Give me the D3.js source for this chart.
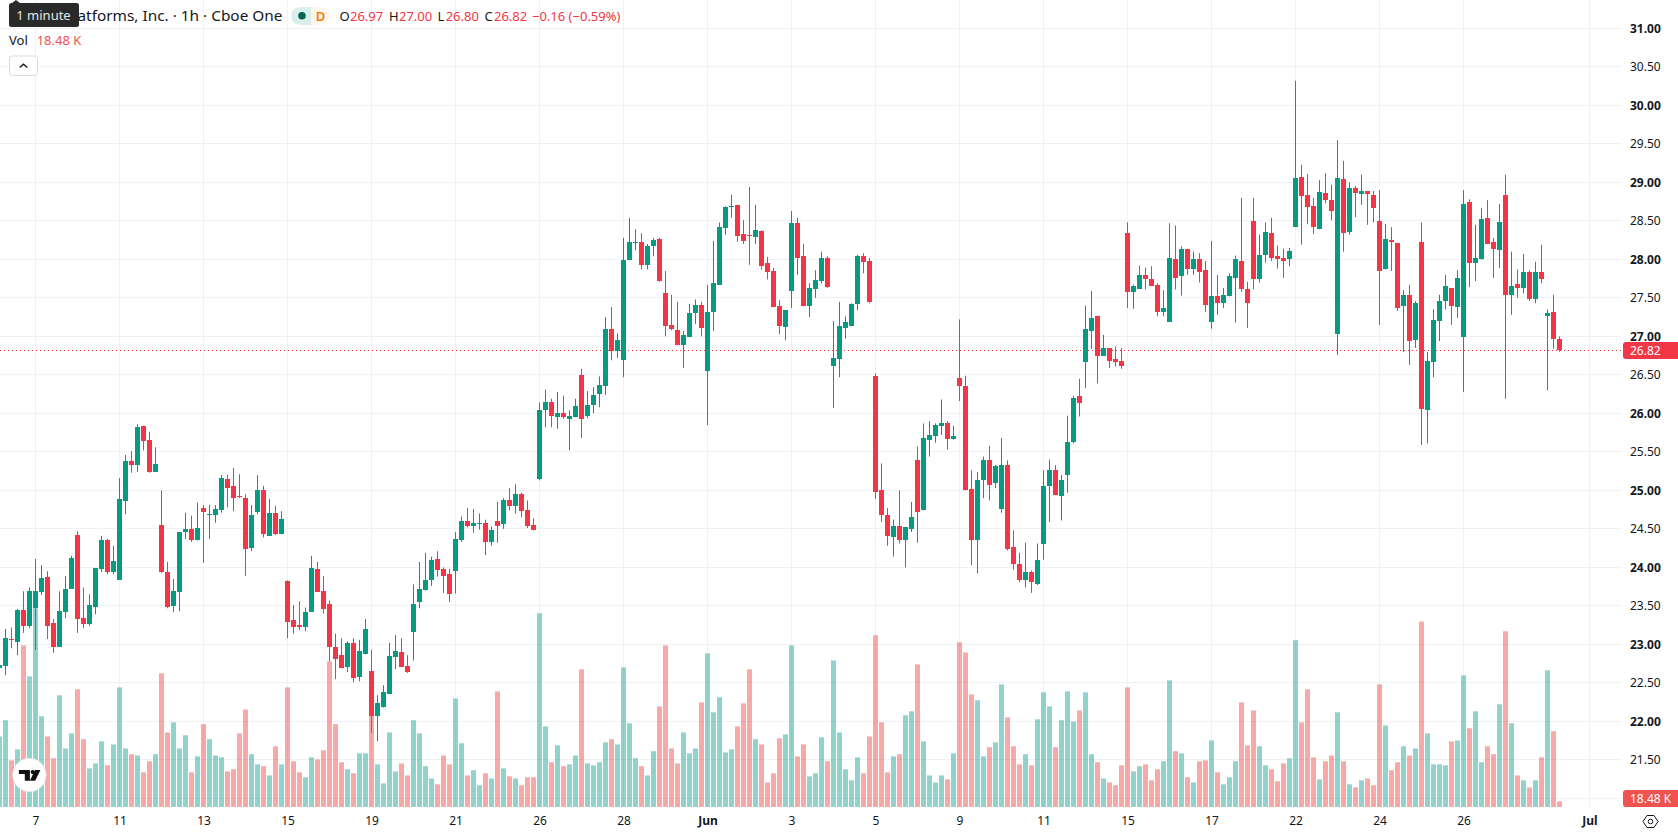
<!DOCTYPE html>
<html>
<head>
<meta charset="utf-8">
<title>Candlestick chart</title>
<script src="https://cdn.jsdelivr.net/npm/d3@7/dist/d3.min.js"></script>
<style>
  html, body { margin: 0; padding: 0; background: #fff; overflow: hidden; }
  svg { display: block; font-family: "Noto Sans", sans-serif; }
</style>
</head>
<body>
<svg id="chart" width="1678" height="835"></svg>
<script>
// Hourly session prices, first bar sits one slot left of index 0.
const opens = [22.70,22.72,23.07,23.03,23.45,23.24,23.47,23.68,23.87,23.28,
22.97,23.42,23.72,24.42,23.34,23.26,23.48,23.98,24.35,23.94,
23.84,24.86,25.38,25.33,25.84,25.65,25.24,24.55,23.94,23.50,
23.68,24.46,24.50,24.35,24.77,24.69,24.68,24.74,25.15,25.06,
24.93,24.90,24.25,24.72,25.00,24.41,24.71,24.43,23.82,23.32,
23.25,23.23,23.42,23.98,23.70,23.53,22.96,22.86,22.71,23.02,
22.58,22.87,22.65,22.07,22.19,22.36,22.84,22.90,22.72,23.16,
23.55,23.71,23.83,24.11,23.98,23.92,23.95,24.36,24.60,24.54,
24.57,24.58,24.33,24.60,24.56,24.87,24.80,24.95,24.74,24.55,
25.15,26.04,26.15,25.95,26.01,25.93,25.95,26.50,25.97,26.11,
26.25,26.36,27.10,26.81,26.69,27.99,28.22,28.23,27.93,28.17,
28.26,27.56,27.15,27.08,26.89,26.99,27.30,27.41,26.55,27.32,
27.67,28.41,28.69,28.71,28.33,28.32,28.29,28.37,27.95,27.85,
27.39,27.12,27.59,28.47,28.04,27.39,27.61,27.72,28.02,26.61,
26.71,27.11,27.13,27.42,28.04,27.98,26.48,25.01,24.68,24.39,
24.54,24.36,24.50,25.39,24.74,25.66,25.71,25.84,25.88,25.67,
26.46,26.36,25.02,24.36,25.13,25.39,25.09,24.76,25.33,24.26,
24.05,23.84,23.94,23.79,24.31,25.06,25.26,24.93,25.20,25.63,
26.22,26.67,27.07,27.27,26.75,26.85,26.71,26.68,28.34,27.58,
27.62,27.80,27.75,27.67,27.32,27.19,28.01,27.79,28.13,27.88,
28.00,27.86,27.19,27.53,27.44,27.53,27.76,27.98,27.62,28.50,
27.75,28.06,28.34,28.05,28.02,28.00,28.42,29.07,28.84,28.69,
28.39,28.86,28.77,27.03,29.04,28.35,28.93,28.85,28.89,28.84,
28.50,27.87,28.25,28.21,27.39,27.54,26.95,28.23,26.04,26.67,
27.20,27.46,27.63,27.38,26.99,28.74,27.95,28.00,28.54,28.23,
28.12,28.84,27.54,27.68,27.63,27.84,27.48,27.84,27.26,27.32,26.97];

const closes = [22.73,23.08,23.06,23.45,23.24,23.69,23.69,23.86,23.24,22.97,
23.43,23.72,24.12,23.33,23.26,23.51,23.99,24.35,23.94,24.08,
24.89,25.38,25.33,25.82,25.64,25.24,25.34,23.94,23.48,23.69,
24.46,24.50,24.35,24.51,24.72,24.70,24.76,25.16,25.03,24.90,
24.91,24.24,24.68,25.00,24.43,24.71,24.43,24.63,23.29,23.23,
23.22,23.42,23.99,23.68,23.46,22.96,22.81,22.69,23.02,22.57,
22.92,23.20,22.07,22.24,22.38,22.85,22.92,22.71,22.64,23.52,
23.72,23.83,24.10,23.97,23.89,23.65,24.37,24.60,24.54,24.58,
24.58,24.33,24.49,24.54,24.87,24.80,24.95,24.73,24.54,24.48,
26.04,26.15,25.97,26.01,25.95,25.97,26.09,25.93,26.11,26.24,
26.37,27.10,26.81,26.95,27.99,28.23,28.23,27.93,28.17,28.25,
27.72,27.13,27.10,26.89,27.02,27.30,27.41,27.11,27.32,27.69,
28.42,28.68,28.70,28.30,28.24,28.30,28.38,27.91,27.84,27.38,
27.13,27.34,28.47,28.02,27.39,27.63,27.73,28.02,27.64,26.72,
27.13,27.19,27.42,28.04,27.97,27.45,24.98,24.68,24.41,24.54,
24.36,24.52,24.66,24.72,25.68,25.72,25.85,25.88,25.67,25.71,
26.35,25.01,24.35,25.13,25.40,25.07,25.32,25.33,24.24,24.05,
23.84,23.94,23.81,24.09,25.06,25.26,24.94,25.13,25.63,26.20,
26.13,27.09,27.24,26.75,26.85,26.68,26.67,26.61,27.58,27.65,
27.80,27.75,27.66,27.32,27.37,28.02,27.76,28.13,27.88,28.00,
27.83,27.41,27.52,27.43,27.54,27.78,28.00,27.62,27.43,27.75,
28.06,28.35,28.02,28.01,27.98,28.11,29.06,28.82,28.68,28.42,
28.87,28.77,28.63,29.06,28.34,28.93,28.86,28.89,28.85,28.67,
27.85,28.26,28.23,27.37,27.54,26.94,27.43,26.06,26.68,27.21,
27.46,27.65,27.39,27.76,28.72,27.95,28.02,28.52,28.20,28.13,
28.48,27.54,27.65,27.63,27.84,27.48,27.84,27.74,27.30,26.97,26.82];

const highs = [22.80,23.20,23.22,23.46,23.69,23.74,24.11,24.03,23.95,23.33,
23.69,23.89,24.15,24.47,23.74,23.65,23.99,24.41,24.37,24.28,
25.16,25.46,25.51,25.86,25.84,25.76,25.56,25.00,24.07,23.85,
24.46,24.71,24.67,24.84,24.81,24.81,24.81,25.20,25.20,25.29,
25.21,24.95,24.81,25.20,25.06,24.89,24.80,24.73,23.83,23.51,
23.56,23.48,24.15,24.07,23.89,23.57,23.14,23.08,23.04,23.08,
23.06,23.33,22.93,22.34,22.47,23.02,23.12,23.08,22.86,23.78,
24.07,24.19,24.14,24.21,24.00,23.98,24.46,24.66,24.77,24.76,
24.70,24.62,24.53,24.85,24.90,25.03,25.08,24.97,24.87,24.64,
26.14,26.31,26.19,26.28,26.23,26.04,26.19,26.58,26.29,26.34,
26.48,27.25,27.38,27.04,28.28,28.54,28.39,28.34,28.20,28.28,
28.28,27.85,27.54,27.45,27.07,27.42,27.48,27.45,27.67,28.24,
28.48,28.69,28.84,28.71,28.51,28.94,28.71,28.38,28.03,27.89,
27.47,27.34,28.63,28.54,28.20,27.69,27.86,28.10,28.04,27.20,
27.45,27.26,27.43,28.06,28.08,28.02,26.52,25.35,24.77,24.62,
25.00,24.52,24.85,25.57,25.87,25.90,25.87,26.18,25.90,25.84,
27.22,26.49,25.26,25.24,25.44,25.58,25.33,25.68,25.39,24.48,
24.19,24.32,23.96,24.31,25.26,25.40,25.33,25.20,25.97,26.23,
26.45,27.40,27.59,27.27,27.02,26.85,26.87,26.85,28.48,27.67,
27.92,27.89,27.91,27.69,27.60,28.47,28.44,28.17,28.13,28.10,
28.08,27.98,28.24,27.80,27.63,27.82,28.05,28.80,27.71,28.80,
28.32,28.48,28.54,28.18,28.14,28.15,30.32,29.23,29.11,28.80,
29.03,29.12,28.97,29.55,29.28,29.00,28.95,29.10,28.89,28.89,
28.90,28.46,28.42,28.21,27.60,27.67,27.46,28.48,26.80,27.35,
27.54,27.80,27.63,27.86,28.90,28.78,28.45,28.67,28.77,28.28,
28.72,29.10,28.10,27.87,28.07,27.86,27.97,28.19,27.35,27.54,27.00];

const lows = [22.60,22.60,22.95,22.86,23.15,23.21,22.93,23.64,23.07,22.89,
22.97,23.34,23.72,23.15,23.21,23.24,23.39,23.94,23.91,23.91,
23.84,24.69,25.23,25.24,25.52,25.23,25.24,23.93,23.47,23.42,
23.43,24.37,24.33,24.35,24.06,24.37,24.58,24.71,24.78,24.73,
24.90,23.89,24.21,24.69,24.39,24.41,24.42,24.43,23.08,23.14,
23.19,23.17,23.42,23.68,23.40,22.78,22.55,22.69,22.64,22.51,
22.52,22.87,21.85,21.74,22.18,22.36,22.68,22.71,22.63,22.79,
23.47,23.70,23.76,23.88,23.67,23.55,23.66,24.33,24.52,24.45,
24.49,24.16,24.28,24.32,24.50,24.74,24.70,24.65,24.51,24.48,
25.13,25.82,25.82,25.80,25.93,25.52,25.95,25.68,25.94,26.00,
26.08,26.24,26.69,26.72,26.47,27.99,28.12,27.87,27.87,28.04,
27.71,27.00,27.08,26.89,26.59,26.99,27.16,27.00,25.85,27.07,
27.67,28.32,28.54,28.23,28.20,27.93,28.20,27.87,27.74,27.38,
27.03,26.95,27.37,27.80,27.39,27.25,27.50,27.69,27.63,26.07,
26.47,26.97,27.13,27.34,27.82,27.43,24.89,24.59,24.28,24.14,
24.31,24.00,24.46,24.32,24.74,25.44,25.62,25.72,25.53,25.66,
26.16,25.00,24.03,23.92,24.90,24.87,25.03,24.71,24.22,23.97,
23.81,23.74,23.67,23.77,24.10,24.59,24.94,24.61,24.97,25.61,
25.96,26.33,26.84,26.39,26.75,26.59,26.61,26.58,27.37,27.36,
27.62,27.61,27.66,27.26,27.26,27.19,27.61,27.53,27.80,27.80,
27.70,27.32,27.10,27.28,27.37,27.52,27.18,27.58,27.11,27.61,
27.70,27.96,27.98,27.88,27.76,27.91,28.42,28.19,28.46,28.33,
28.39,28.73,28.51,26.76,28.10,28.32,28.55,28.71,28.45,28.48,
27.15,27.87,27.85,27.33,26.80,26.63,26.85,25.59,25.61,26.47,
26.94,27.35,27.15,27.24,26.28,27.64,27.72,28.00,28.20,27.76,
27.89,26.19,27.28,27.50,27.56,27.46,27.43,27.69,26.30,26.84,26.80];

// Traded volume per bar, in thousands of shares.
const volumes = [230,283,152,188,527,426,648,296,230,159,
364,191,240,384,221,126,142,214,136,204,
390,191,172,168,113,149,172,436,243,276,
191,234,113,165,270,221,168,162,116,123,
240,318,172,139,133,103,198,139,390,149,
113,97,162,155,185,475,270,146,123,110,
175,175,304,139,77,243,116,142,103,283,
240,133,93,74,168,139,354,208,103,120,
71,110,93,377,126,100,93,71,97,97,
632,263,146,201,133,139,168,449,142,136,
146,211,221,204,455,273,159,133,103,182,
328,527,191,142,243,175,191,341,501,309,
358,178,188,263,338,449,221,204,80,110,
224,237,527,165,204,100,110,227,149,478,
243,123,87,162,110,230,560,276,113,165,
172,299,312,465,214,103,80,103,90,175,
537,504,367,348,165,195,211,400,292,198,
139,172,136,286,374,328,195,283,377,279,
315,374,172,146,93,80,71,136,390,116,
133,139,87,123,149,413,182,175,97,80,
149,152,217,113,74,97,149,341,201,315,
198,136,123,84,142,159,544,276,384,162,
90,149,168,309,149,74,64,87,93,71,
400,266,120,146,198,168,191,605,240,139,
139,136,214,217,429,257,312,146,198,172,
335,573,273,103,87,64,87,162,446,247,18.48];

// Tick labels for both axes.
const timeTickBars = [5,19,33,47,61,75,89,103,117,131,145,159,173,187,201,215,229,243,264];
const timeTickLabels = ["7","11","13","15","19","21","26","28","Jun","3","5","9","11","15","17","22","24","26","Jul"];
const boldTimeLabels = ["Jun","Jul"];
const priceGridLevels = d3.range(21, 31.01, 0.5);
const priceTickLevels = d3.range(21.5, 31.01, 0.5);

const lastPrice = closes[closes.length - 1];
const lastVolume = volumes[volumes.length - 1];

const UP = "#089981", DOWN = "#f23645";
const VOL_UP = "#26a69a", VOL_DOWN = "#ef5350";
const GRID = "#f0f1f4", TEXT = "#131722";
const PANE_RIGHT = 1621, PANE_BOTTOM = 807;
const BODY_WIDTH = 5;

const svg = d3.select("#chart");
const x = d3.scaleLinear().domain([0, 1]).range([5.5, 11.5]);
const y = d3.scaleLinear().domain([21, 31]).range([798.4, 28.4]);
const yVol = d3.scaleLinear().domain([0, 1000]).range([PANE_BOTTOM, PANE_BOTTOM - 306.65]);

const bars = opens.map((o, k) => ({
  i: k - 1, o, h: highs[k], l: lows[k], c: closes[k], v: volumes[k], up: closes[k] >= o
}));

const pane = svg.append("g");
const snap = v => Math.floor(v) + 0.5;

// Grid
pane.append("g").selectAll("line").data(priceGridLevels).join("line")
  .attr("x1", 0).attr("x2", PANE_RIGHT)
  .attr("y1", d => snap(y(d))).attr("y2", d => snap(y(d)))
  .attr("stroke", GRID);
pane.append("g").selectAll("line").data(timeTickBars).join("line")
  .attr("x1", d => snap(x(d))).attr("x2", d => snap(x(d)))
  .attr("y1", 0).attr("y2", PANE_BOTTOM)
  .attr("stroke", GRID);

// Volume columns
pane.append("g").selectAll("rect").data(bars).join("rect")
  .attr("x", d => x(d.i) - BODY_WIDTH / 2)
  .attr("width", BODY_WIDTH)
  .attr("y", d => yVol(d.v))
  .attr("height", d => PANE_BOTTOM - yVol(d.v))
  .attr("fill", d => d.up ? VOL_UP : VOL_DOWN)
  .attr("fill-opacity", 0.5);

// Last price line
pane.append("line")
  .attr("x1", 0).attr("x2", PANE_RIGHT)
  .attr("y1", snap(y(lastPrice))).attr("y2", snap(y(lastPrice)))
  .attr("stroke", DOWN).attr("stroke-dasharray", "1,3");

// Candles: wick and body
const candles = pane.append("g");
candles.selectAll("rect.wick").data(bars).join("rect")
  .attr("class", "wick")
  .attr("x", d => x(d.i) - 0.5)
  .attr("width", 1)
  .attr("y", d => y(d.h))
  .attr("height", d => y(d.l) - y(d.h))
  .attr("fill", d => d.up ? UP : DOWN);
candles.selectAll("rect.body").data(bars).join("rect")
  .attr("class", "body")
  .attr("x", d => x(d.i) - BODY_WIDTH / 2)
  .attr("width", BODY_WIDTH)
  .attr("y", d => Math.round(y(Math.max(d.o, d.c))))
  .attr("height", d => Math.max(1, Math.round(y(Math.min(d.o, d.c))) - Math.round(y(Math.max(d.o, d.c)))))
  .attr("fill", d => d.up ? UP : DOWN);

// Price axis on the right
const priceAxis = svg.append("g")
  .attr("transform", `translate(${PANE_RIGHT},0)`)
  .call(d3.axisRight(y).tickValues(priceTickLevels).tickFormat(d3.format(".2f")).tickSize(0).tickPadding(9));
priceAxis.select(".domain").remove();
priceAxis.selectAll("text")
  .attr("font-family", '"Noto Sans", sans-serif')
  .attr("font-size", 12)
  .attr("fill", TEXT)
  .attr("font-weight", d => Number.isInteger(d) ? 700 : 400);

// Time axis along the bottom
const timeAxis = svg.append("g")
  .attr("transform", `translate(0,${PANE_BOTTOM})`)
  .call(d3.axisBottom(x).tickValues(timeTickBars)
    .tickFormat(d => timeTickLabels[timeTickBars.indexOf(d)]).tickSize(0).tickPadding(9));
timeAxis.select(".domain").remove();
timeAxis.selectAll("text")
  .attr("font-family", '"Noto Sans", sans-serif')
  .attr("font-size", 12)
  .attr("fill", TEXT)
  .attr("font-weight", (d, k) => boldTimeLabels.includes(timeTickLabels[k]) ? 700 : 400);

// Axis value badges
const badge = (yTop, h, fill, label) => {
  svg.append("path")
    .attr("d", `M1678,${yTop}H1626a3,3 0 0 0 -3,3V${yTop + h - 3}a3,3 0 0 0 3,3H1678Z`)
    .attr("fill", fill);
  svg.append("text").attr("x", 1630).attr("y", yTop + h / 2 + 4.2)
    .attr("font-size", 12).attr("fill", "#fff").text(label);
};
badge(342, 17, DOWN, d3.format(".2f")(lastPrice));
badge(790, 17, VOL_DOWN, `${lastVolume} K`);

// Settings hexagon beside the time axis
const gear = svg.append("g").attr("transform", "translate(1650.5,821.5)")
  .attr("fill", "none").attr("stroke", TEXT).attr("stroke-width", 1);
gear.append("path").attr("d", "M-7.5,0L-3.5,-6H3.5L7.5,0L3.5,6H-3.5Z");
gear.append("circle").attr("r", 2.3);

// Header: instrument title and last bar values
svg.append("text").attr("x", 77.5).attr("y", 20.5).attr("font-size", 15).attr("fill", TEXT)
  .attr("textLength", 205).attr("lengthAdjust", "spacingAndGlyphs")
  .text("atforms, Inc. · 1h · Cboe One");

svg.append("path").attr("d", "M311,7H300a9,9 0 0 0 0,18H311Z").attr("fill", "#d9efeb");
svg.append("path").attr("d", "M311,7H321.5a9,9 0 0 1 0,18H311Z").attr("fill", "#fff7ec");
svg.append("circle").attr("cx", 302).attr("cy", 15.8).attr("r", 3.8).attr("fill", "#056656");
svg.append("text").attr("x", 320.4).attr("y", 20.5).attr("text-anchor", "middle")
  .attr("font-size", 13).attr("font-weight", 600).attr("fill", "#f57c00").text("D");

const ohlcHeader = [
  [339.5, "O", TEXT], [350, "26.97", DOWN],
  [389, "H", TEXT], [399, "27.00", DOWN],
  [437.6, "L", TEXT], [445.7, "26.80", DOWN],
  [484.5, "C", TEXT], [494, "26.82", DOWN],
  [532, "−0.16 (−0.59%)", DOWN]
];
svg.append("g").selectAll("text").data(ohlcHeader).join("text")
  .attr("x", d => d[0]).attr("y", 20.5).attr("font-size", 13)
  .attr("fill", d => d[2]).text(d => d[1]);

svg.append("text").attr("x", 9).attr("y", 45).attr("font-size", 13).attr("fill", TEXT).text("Vol");
svg.append("text").attr("x", 36.7).attr("y", 45).attr("font-size", 13).attr("fill", VOL_DOWN).text("18.48 K");

// Collapse button
svg.append("rect").attr("x", 9.5).attr("y", 56).attr("width", 28).attr("height", 19.5).attr("rx", 3)
  .attr("fill", "#fff").attr("stroke", "#d9dbe0");
svg.append("path").attr("d", "M19.7,67.5L23.5,64.2L27.3,67.5").attr("fill", "none")
  .attr("stroke", TEXT).attr("stroke-width", 1.3);

// Hover tooltip
svg.append("path").attr("d", "M12,3L16,0L20,3Z").attr("fill", "#2a2a2a");
svg.append("rect").attr("x", 9).attr("y", 3).attr("width", 70).attr("height", 24).attr("rx", 2.5).attr("fill", "#2a2a2a");
svg.append("text").attr("x", 43.5).attr("y", 19.7).attr("text-anchor", "middle")
  .attr("font-size", 13).attr("fill", "#e6e6e6").text("1 minute");

// Watermark badge
const mark = svg.append("g").attr("transform", "translate(29.4,775)");
mark.append("circle").attr("r", 16.7).attr("fill", "#fff").attr("stroke", "#e4e5e8").attr("stroke-width", 0.8);
mark.append("path").attr("d", "M-10.5,-5H0.5V5.8H-4.6V-1H-10.5Z").attr("fill", "#111");
mark.append("circle").attr("cx", 3.2).attr("cy", -3).attr("r", 2).attr("fill", "#111");
mark.append("path").attr("d", "M5.5,-5H11L5.8,5.8H0.5Z").attr("fill", "#111");
</script>
</body>
</html>
